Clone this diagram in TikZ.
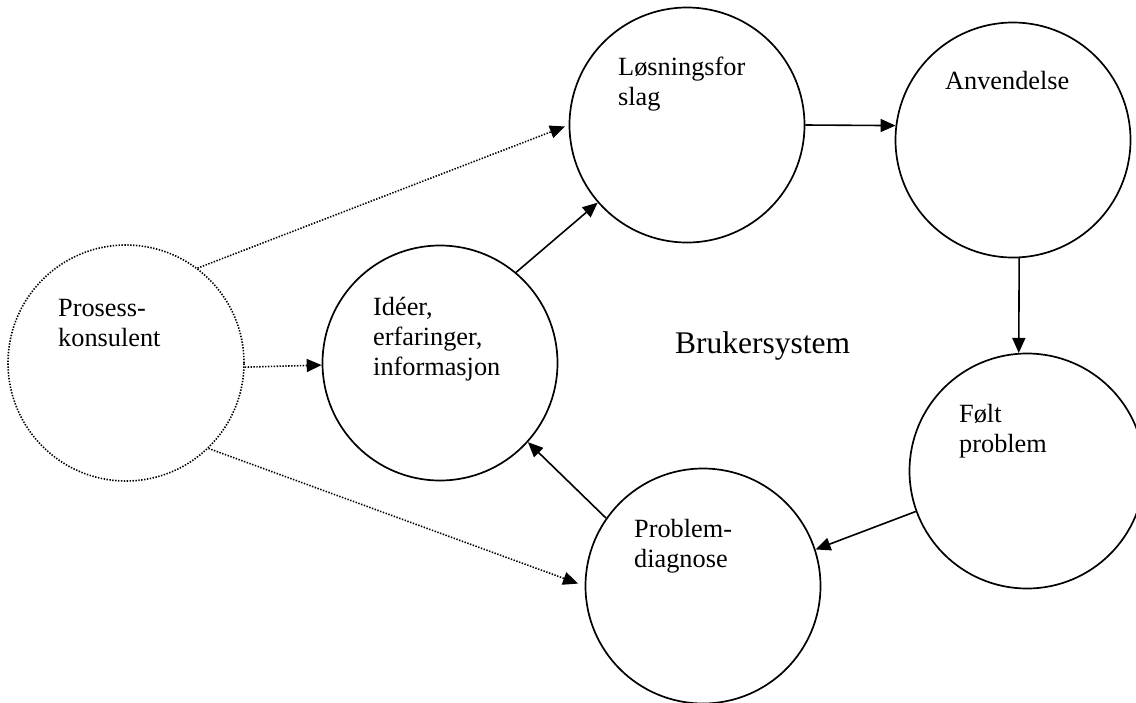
\documentclass[tikz,border=0pt]{standalone}
\usepackage{fontspec}
\setmainfont{Liberation Serif}
\usetikzlibrary{arrows.meta}
\begin{document}
\begin{tikzpicture}[x=1pt,y=-1pt,
  stage/.style={circle, draw, line width=1.7pt, minimum size=235pt, inner sep=0pt},
  consultant/.style={circle, draw, line width=1.6pt, dash pattern=on 1.4pt off 1.5pt, minimum size=236pt, inner sep=0pt},
  caption/.style={anchor=base west, inner sep=0pt, align=left, font=\fontsize{26.3}{30}\selectfont},
  flow/.style={line width=1.6pt, -{Triangle[length=15pt,width=13pt]}},
  advice/.style={flow, dash pattern=on 1.4pt off 1.5pt}]
  \useasboundingbox (0,0) rectangle (1136,702);
  \clip (0,0) rectangle (1136,702);

  % circles of the cycle
  \node[consultant] (pk) at (126,363) {};
  \node[stage] (ide) at (440,363) {};
  \node[stage] (los) at (687,125) {};
  \node[stage] (anv) at (1013,140) {};
  \node[stage] (fol) at (1027,471) {};
  \node[stage] (dia) at (703,586) {};

  % captions (anchored at the baseline of their last line)
  \node[caption] (pk-t)  at (58,346)  {Prosess-\\konsulent};
  \node[caption] (ide-t) at (373,375) {Idéer,\\erfaringer,\\informasjon};
  \node[caption] (los-t) at (618,105) {Løsningsfor\\slag};
  \node[caption] (anv-t) at (945,89)  {Anvendelse};
  \node[caption] (fol-t) at (959,452) {Følt\\problem};
  \node[caption] (dia-t) at (634,567) {Problem-\\diagnose};
  \node[anchor=base west, inner sep=0pt, font=\fontsize{31.5}{36}\selectfont] (sys) at (675,353) {Brukersystem};

  % cycle arrows
  \draw[flow] (ide.50.8) -- (los.221.2);
  \draw[flow] (los.0.5) -- (anv.173.7);
  \draw[flow] (anv.273) -- (fol.94);
  \draw[flow] (fol.200) -- (dia.18.9);
  \draw[flow] (dia.145) -- (ide.318.4);

  % consultant input
  \draw[advice, shorten >=4pt] (pk.53) -- (los.180);
  \draw[advice] (pk.358.5) -- (ide.181.5);
  \draw[advice, shorten >=7pt] (pk.314.3) -- (dia.180.9);
\end{tikzpicture}
\end{document}
